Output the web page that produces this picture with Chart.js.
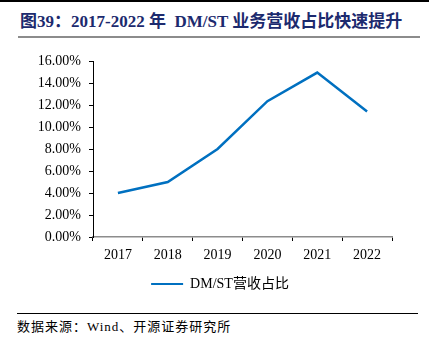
<!DOCTYPE html>
<html>
<head>
<meta charset="utf-8">
<script src="https://cdn.jsdelivr.net/npm/chart.js@4"></script>
<style>
  html, body { margin:0; padding:0; background:#fff; }
  body { width:429px; height:353px; position:relative; overflow:hidden; }
  #topline { position:absolute; left:0; top:0; width:429px; height:2px; background:#000; }
  #title { position:absolute; left:20px; top:12px; font-family:"Liberation Serif","Noto Sans CJK SC",serif; font-weight:bold; font-size:17px; color:#1c2a6e; white-space:nowrap; line-height:20px; }
  #titleline { position:absolute; left:18px; top:36px; width:402px; height:2px; background:#8c8c8c; }
  #srcline { position:absolute; left:17px; top:313px; width:401px; height:1px; background:#000; }
  #source { position:absolute; left:17px; top:319px; font-family:"Liberation Serif","Noto Sans CJK SC",serif; font-size:13px; letter-spacing:1px; color:#000; white-space:nowrap; line-height:16px; }
  #wrap { position:absolute; left:0; top:0; width:429px; height:305px; }
</style>
</head>
<body>
<div id="topline"></div>
<div id="title">图39：2017-2022 年&nbsp; DM/ST 业务营收占比快速提升</div>
<div id="titleline"></div>
<div id="wrap"><canvas id="c"></canvas></div>
<div id="srcline"></div>
<div id="source">数据来源：Wind、开源证券研究所</div>
<script>
const categories = ["2017","2018","2019","2020","2021","2022"];
const seriesName = "DM/ST营收占比";
const shareValues = [4.0, 5.0, 8.0, 12.35, 14.95, 11.4];
const yTicks = [0,2,4,6,8,10,12,14,16];

const fontFam = '"Liberation Serif","Noto Sans CJK SC",serif';
const legendShift = {
  id: 'legendShift',
  afterLayout(chart) {
    const l = chart.legend;
    if (l) { l.left += 24; l.right += 24; }
  }
};
new Chart(document.getElementById('c'), {
  type: 'line',
  data: {
    labels: categories,
    datasets: [{
      label: seriesName,
      data: shareValues,
      borderColor: '#0070C0',
      backgroundColor: '#0070C0',
      borderWidth: 2.5,
      pointRadius: 0,
      tension: 0,
      fill: false
    }]
  },
  plugins: [legendShift],
  options: {
    responsive: true,
    maintainAspectRatio: false,
    animation: false,
    devicePixelRatio: 1,
    layout: { padding: { left: 0, right: 37, top: 61, bottom: 4 } },
    plugins: {
      tooltip: { enabled: false },
      legend: {
        position: 'bottom',
        labels: {
          boxWidth: 32,
          boxHeight: 2,
          padding: 10,
          color: '#000',
          font: { family: fontFam, size: 14 },
          generateLabels: chart => {
            const items = Chart.defaults.plugins.legend.labels.generateLabels(chart);
            items.forEach(it => { it.lineWidth = 0; it.strokeStyle = 'rgba(0,0,0,0)'; });
            return items;
          }
        }
      }
    },
    scales: {
      x: {
        offset: true,
        grid: { display: true, drawOnChartArea: false, drawTicks: true, tickLength: 4, color: '#000', offset: true },
        border: { display: true, color: '#8c8c8c', width: 1.5 },
        ticks: { color: '#000', padding: 6, font: { family: fontFam, size: 14 }, maxRotation: 0 },
        afterFit: s => { s.height = 30; }
      },
      y: {
        min: 0, max: 16,
        afterBuildTicks: s => { s.ticks = yTicks.map(v => ({ value: v })); },
        grid: { display: true, drawOnChartArea: false, drawTicks: true, tickLength: 4, color: '#000' },
        border: { display: true, color: '#000', width: 1 },
        ticks: { color: '#000', padding: 8, font: { family: fontFam, size: 14 }, callback: v => v.toFixed(2) + '%' },
        afterFit: s => { s.width = 93; }
      }
    }
  }
});
</script>
</body>
</html>
